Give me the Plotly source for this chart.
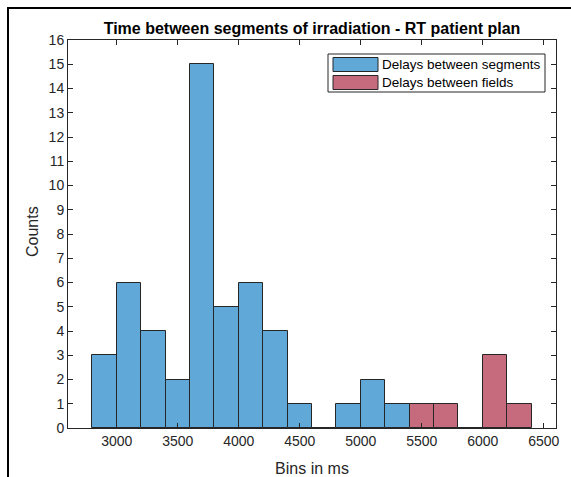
import plotly.graph_objects as go

# Histogram bins (ms) and counts per bin
bin_width = 200
seg_edges = [2800, 3000, 3200, 3400, 3600, 3800, 4000, 4200, 4400, 4600, 4800, 5000, 5200]
seg_counts = [3, 6, 4, 2, 15, 5, 6, 4, 1, 0, 1, 2, 1]
field_edges = [5400, 5600, 5800, 6000, 6200]
field_counts = [1, 1, 0, 3, 1]

x_ticks = [3000, 3500, 4000, 4500, 5000, 5500, 6000, 6500]
y_ticks = list(range(0, 17))

title_text = "Time between segments of irradiation - RT patient plan"
x_title = "Bins in ms"
y_title = "Counts"
legend_names = ["Delays between segments", "Delays between fields"]

blue = "#5FA8D8"
red = "#C66B7E"
edge = "#262626"
font = "Liberation Sans, Arial, sans-serif"

W, H = 571, 477
L, R, T, B = 68, 15, 40, 49
PW, PH = W - L - R, H - T - B


def px(x):
    return (x - L) / PW


def py(y):
    return 1 - (y - T) / PH


fig = go.Figure()
for edges, counts, color, name in [
    (seg_edges, seg_counts, blue, legend_names[0]),
    (field_edges, field_counts, red, legend_names[1]),
]:
    fig.add_trace(go.Bar(
        x=[e + bin_width / 2 for e in edges],
        y=counts,
        width=bin_width,
        marker=dict(color=color, line=dict(color=edge, width=1)),
        name=name,
        showlegend=False,
    ))

axis_common = dict(
    showline=True, linecolor=edge, linewidth=1, mirror="ticks",
    ticks="inside", ticklen=5, tickcolor=edge, showgrid=False, zeroline=False,
    automargin=False,
    tickfont=dict(family=font, size=14, color=edge),
)

fig.update_layout(
    width=W, height=H,
    margin=dict(l=L, r=R, t=T, b=B, autoexpand=False),
    paper_bgcolor="white", plot_bgcolor="white",
    bargap=0,
    title=dict(text="<b>" + title_text + "</b>", x=px(312), xref="paper",
               y=1 - 28 / H, yref="container", xanchor="center", yanchor="middle",
               font=dict(family=font, size=16, color="black")),
    xaxis=dict(range=[2600, 6600], tickvals=x_ticks,
               title=dict(text=x_title, font=dict(family=font, size=16, color=edge)),
               **axis_common),
    yaxis=dict(range=[0, 16], tickvals=y_ticks, **axis_common),
)

shapes = []
# Figure window frame (left and top edges)
shapes.append(dict(type="line", xref="paper", yref="paper", x0=px(8), x1=px(8),
                   y0=py(7), y1=py(480), line=dict(color="black", width=2)))
shapes.append(dict(type="line", xref="paper", yref="paper", x0=px(7), x1=px(575),
                   y0=py(8), y1=py(8), line=dict(color="black", width=2)))

annotations = [
    # y-axis title, placed close to the tick labels
    dict(text=y_title, xref="paper", yref="paper", x=px(32), y=py(232),
         xanchor="center", yanchor="middle", textangle=-90, showarrow=False,
         font=dict(family=font, size=16, color=edge)),
]

# Legend box with wide swatches
shapes.append(dict(type="rect", xref="paper", yref="paper", x0=px(328), x1=px(545),
                   y0=py(54), y1=py(92), line=dict(color=edge, width=1), fillcolor="white"))
for i, (name, color) in enumerate(zip(legend_names, [blue, red])):
    yc = 64.5 + i * 18
    shapes.append(dict(type="rect", xref="paper", yref="paper", x0=px(333), x1=px(378),
                       y0=py(yc - 7), y1=py(yc + 7), line=dict(color=edge, width=1),
                       fillcolor=color))
    annotations.append(dict(text=name, xref="paper", yref="paper", x=px(380), y=py(yc),
                            xanchor="left", yanchor="middle", showarrow=False,
                            font=dict(family=font, size=13.5, color="black")))

fig.update_layout(shapes=shapes, annotations=annotations)

fig.write_html("out.html")
